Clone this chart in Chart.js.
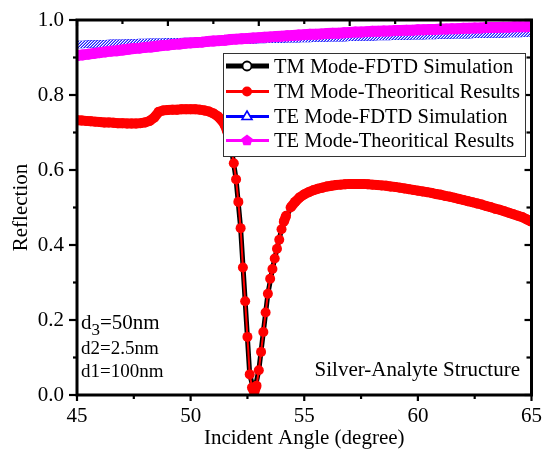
<!DOCTYPE html>
<html><head><meta charset="utf-8">
<script src="https://cdn.jsdelivr.net/npm/chart.js@4.4.1/dist/chart.umd.min.js"></script>
<style>html,body{margin:0;padding:0;background:#fff;}canvas{display:block;}</style>
</head><body>
<canvas id="c" width="542" height="454"></canvas>
<script>
// ---------- data ----------
const tmAngles = [45.0,45.2,45.4,45.6,45.8,46.0,46.2,46.4,46.6,46.8,47.0,47.2,47.4,47.6,47.8,48.0,48.2,48.4,48.6,48.8,
  49.0,49.2,49.4,49.6,49.8,50.0,50.2,50.4,50.6,50.8,51.0,51.2,51.4,51.5,51.6,51.7,51.8,51.9,52.0,52.1,
  52.2,52.3,52.4,52.5,52.6,52.7,52.8,52.9,53.0,53.1,53.2,53.3,53.4,53.5,53.6,53.7,53.8,53.9,54.0,54.1,
  54.2,54.4,54.6,54.8,55.0,55.2,55.4,55.6,55.8,56.0,56.2,56.4,56.6,56.8,57.0,57.2,57.4,57.6,57.8,58.0,
  58.2,58.4,58.6,58.8,59.0,59.2,59.4,59.6,59.8,60.0,60.2,60.4,60.6,60.8,61.0,61.2,61.4,61.6,61.8,62.0,
  62.2,62.4,62.6,62.8,63.0,63.2,63.4,63.6,63.8,64.0,64.2,64.4,64.6,64.8,65.0];
const tmTheory = [0.733,0.732,0.731,0.730,0.729,0.728,0.727,0.727,0.726,0.725,0.725,0.724,0.724,0.724,0.725,0.727,0.731,0.740,0.755,0.759,
  0.760,0.761,0.761,0.762,0.762,0.762,0.762,0.761,0.759,0.756,0.751,0.743,0.730,0.720,0.705,0.685,0.655,0.618,0.575,0.515,
  0.445,0.340,0.250,0.155,0.055,0.020,0.008,0.025,0.066,0.115,0.168,0.220,0.270,0.310,0.336,0.364,0.390,0.414,0.442,0.462,
  0.478,0.500,0.515,0.527,0.535,0.541,0.546,0.550,0.553,0.556,0.558,0.560,0.561,0.562,0.563,0.563,0.563,0.563,0.562,0.561,
  0.560,0.559,0.558,0.556,0.555,0.553,0.551,0.549,0.547,0.545,0.543,0.541,0.539,0.536,0.534,0.531,0.529,0.526,0.523,0.520,
  0.517,0.514,0.511,0.508,0.504,0.501,0.497,0.494,0.490,0.486,0.482,0.478,0.474,0.468,0.462];
const tmFdtdAngles = [45,46,47,48,48.4,48.6,49,50,51,51.4,51.6,51.8,52.0,52.2,52.4,52.6,52.8,53.0,53.2,53.4,53.6,53.8,54.0,54.4,55,56,57,58,59,60,61,62,63,64,65];
const tmFdtd = [0.733,0.728,0.725,0.727,0.740,0.755,0.760,0.762,0.751,0.730,0.705,0.655,0.575,0.445,0.250,0.055,0.008,0.066,0.168,0.270,0.336,0.390,0.442,0.500,0.535,0.556,0.563,0.561,0.555,0.545,0.534,0.520,0.504,0.486,0.462];
const teAngles = [45,45.25,45.5,45.75,46,46.25,46.5,46.75,47,47.25,47.5,47.75,48,48.25,48.5,48.75,49,49.25,49.5,49.75,
  50,50.25,50.5,50.75,51,51.25,51.5,51.75,52,52.25,52.5,52.75,53,53.25,53.5,53.75,54,54.25,54.5,54.75,
  55,55.25,55.5,55.75,56,56.25,56.5,56.75,57,57.25,57.5,57.75,58,58.25,58.5,58.75,59,59.25,59.5,59.75,
  60,60.25,60.5,60.75,61,61.25,61.5,61.75,62,62.25,62.5,62.75,63,63.25,63.5,63.75,64,64.25,64.5,64.75,65];
const teFdtd = [0.935,0.935,0.936,0.936,0.937,0.937,0.938,0.938,0.938,0.939,0.939,0.940,0.940,0.941,0.941,0.941,0.942,0.942,0.942,0.943,
  0.943,0.943,0.944,0.944,0.945,0.945,0.945,0.946,0.946,0.947,0.947,0.947,0.948,0.948,0.949,0.949,0.949,0.950,0.950,0.950,
  0.951,0.951,0.952,0.952,0.952,0.953,0.953,0.953,0.954,0.954,0.955,0.955,0.955,0.956,0.956,0.956,0.957,0.957,0.957,0.958,
  0.958,0.958,0.959,0.959,0.960,0.960,0.960,0.961,0.961,0.961,0.962,0.962,0.962,0.963,0.963,0.963,0.964,0.964,0.964,0.965,0.965];
const teTheory = [0.905,0.907,0.909,0.911,0.913,0.915,0.917,0.918,0.920,0.922,0.924,0.925,0.927,0.928,0.930,0.932,0.933,0.935,0.936,0.938,
  0.939,0.940,0.941,0.943,0.944,0.945,0.946,0.948,0.949,0.950,0.951,0.952,0.953,0.954,0.955,0.956,0.957,0.958,0.959,0.960,
  0.961,0.962,0.962,0.963,0.964,0.965,0.965,0.966,0.967,0.968,0.968,0.969,0.970,0.970,0.971,0.971,0.972,0.972,0.973,0.973,
  0.974,0.974,0.975,0.975,0.976,0.976,0.977,0.977,0.978,0.978,0.979,0.979,0.980,0.980,0.980,0.981,0.981,0.982,0.982,0.982,0.983];
const legendLabels = ['TM Mode-FDTD Simulation','TM Mode-Theoritical Results','TE Mode-FDTD Simulation','TE Mode-Theoritical Results'];
const topMajorTicks = [45,49,53,57,61,65];
const topMinorTicks = [47,51,55,59,63];
const xTitle = 'Incident Angle (degree)';
const yTitle = 'Reflection';
const noteStructure = 'Silver-Analyte Structure';

const FONT = "'Liberation Serif','Times New Roman',serif";
const pts = (xs, ys) => xs.map((a, i) => ({x: a, y: ys[i]}));

function line(ctx, x1, y1, x2, y2){ ctx.beginPath(); ctx.moveTo(x1,y1); ctx.lineTo(x2,y2); ctx.stroke(); }

// hatch pattern imitating the dense TE-FDTD open-triangle band
function hatch(){
  const c = document.createElement('canvas'); c.width = 3; c.height = 3;
  const g = c.getContext('2d');
  g.fillStyle = '#ffffff'; g.fillRect(0, 0, 3, 3);
  g.fillStyle = '#2020ff';
  g.fillRect(0, 2, 1, 1); g.fillRect(1, 1, 1, 1); g.fillRect(2, 0, 1, 1);
  g.fillStyle = '#8a8aff';
  g.fillRect(0, 1, 1, 1); g.fillRect(1, 0, 1, 1); g.fillRect(2, 2, 1, 1);
  return g.createPattern(c, 'repeat');
}
const bluePattern = hatch();

const decor = {
  id: 'decor',
  afterDatasetsDraw(chart){
    const {ctx, chartArea: a, scales: {x, y}} = chart;
    ctx.save();
    ctx.strokeStyle = '#000';
    ctx.lineWidth = 2.2;
    for (let k = 0; k <= 8; k++) {
      const v = 45 + k * 2.5, px = x.getPixelForValue(v);
      line(ctx, px, a.bottom, px, a.bottom + (k % 2 === 0 ? 6 : 4));
    }
    topMajorTicks.forEach(v => { const px = x.getPixelForValue(v); line(ctx, px, a.top, px, a.top + 6); });
    topMinorTicks.forEach(v => { const px = x.getPixelForValue(v); line(ctx, px, a.top, px, a.top + 4); });
    for (let k = 0; k <= 10; k++) {
      const py = y.getPixelForValue(k / 10);
      line(ctx, a.left - (k % 2 === 0 ? 8 : 4), py, a.left, py);
      line(ctx, a.right, py, a.right - (k % 2 === 0 ? 7 : 5), py);
    }
    ctx.lineWidth = 3;
    ctx.strokeRect(a.left, a.top, a.right - a.left, a.bottom - a.top);

    // legend
    const bx = 223, by = 53, bw = 302, bh = 103;
    ctx.fillStyle = '#fff'; ctx.fillRect(bx, by, bw, bh);
    ctx.strokeStyle = '#333'; ctx.lineWidth = 1; ctx.strokeRect(bx + 0.5, by + 0.5, bw, bh);
    const rowsY = [66, 91.5, 116.5, 140.5];
    const lx1 = 226, lx2 = 269, mx = 247;
    ctx.font = '20.5px ' + FONT; ctx.textBaseline = 'alphabetic'; ctx.textAlign = 'left';
    rowsY.forEach((ry, i) => {
      if (i === 0) {
        ctx.strokeStyle = '#000'; ctx.lineWidth = 5; line(ctx, lx1, ry, lx2, ry);
        ctx.beginPath(); ctx.arc(mx, ry, 4.5, 0, Math.PI * 2); ctx.fillStyle = '#fff'; ctx.fill();
        ctx.lineWidth = 1.8; ctx.stroke();
      } else if (i === 1) {
        ctx.strokeStyle = '#ff0000'; ctx.lineWidth = 3; line(ctx, lx1, ry, lx2, ry);
        ctx.beginPath(); ctx.arc(mx, ry, 5, 0, Math.PI * 2); ctx.fillStyle = '#ff0000'; ctx.fill();
      } else if (i === 2) {
        ctx.strokeStyle = '#0000ff'; ctx.lineWidth = 3; line(ctx, lx1, ry, lx2, ry);
        ctx.beginPath(); ctx.moveTo(mx, ry - 5.5); ctx.lineTo(mx + 5, ry + 3); ctx.lineTo(mx - 5, ry + 3); ctx.closePath();
        ctx.fillStyle = '#fff'; ctx.fill(); ctx.lineWidth = 1.6; ctx.stroke();
      } else {
        ctx.strokeStyle = '#ff00ff'; ctx.lineWidth = 3; line(ctx, lx1, ry, lx2, ry);
        ctx.beginPath();
        for (let k = 0; k < 5; k++) {
          const ang = -Math.PI / 2 + k * 2 * Math.PI / 5;
          const px = mx + 6 * Math.cos(ang), py = ry + 6 * Math.sin(ang);
          if (k === 0) ctx.moveTo(px, py); else ctx.lineTo(px, py);
        }
        ctx.closePath(); ctx.fillStyle = '#ff00ff'; ctx.fill();
      }
      ctx.fillStyle = '#000';
      ctx.fillText(legendLabels[i], 274, ry + 6.7);
    });

    // notes
    ctx.fillStyle = '#000';
    ctx.font = '21px ' + FONT;
    ctx.fillText('d', 81, 328.5);
    const w = ctx.measureText('d').width;
    ctx.font = '17px ' + FONT;
    ctx.fillText('3', 81 + w, 335);
    const w3 = ctx.measureText('3').width;
    ctx.font = '21px ' + FONT;
    ctx.fillText('=50nm', 81 + w + w3, 328.5);
    ctx.font = '19px ' + FONT;
    ctx.fillText('d2=2.5nm', 81, 353.5);
    ctx.fillText('d1=100nm', 81, 377);
    ctx.font = '21px ' + FONT;
    ctx.textAlign = 'right';
    ctx.fillText(noteStructure, 520, 376);
    ctx.restore();
  }
};

Chart.defaults.font.family = FONT;
const flatWidth = (w, thin) => ctx => (Math.abs(ctx.p1.parsed.y - ctx.p0.parsed.y) < 0.02 ? w : thin);
new Chart(document.getElementById('c'), {
  type: 'line',
  data: {
    datasets: [
      { label: legendLabels[1], data: pts(tmAngles, tmTheory), order: 1, clip: 0,
        borderColor: '#ff0000', borderWidth: 2, pointRadius: 5, pointBackgroundColor: '#ff0000',
        pointBorderWidth: 0, tension: 0,
        segment: { borderWidth: flatWidth(10, 2) } },
      { label: legendLabels[0], data: pts(tmFdtdAngles, tmFdtd), order: 2, clip: 0,
        borderColor: '#000', borderWidth: 5, pointRadius: 0, tension: 0 },
      { label: legendLabels[3], data: pts(teAngles, teTheory), order: 3, clip: 0,
        borderColor: '#ff00ff', borderWidth: 11, pointRadius: 5.5, pointBackgroundColor: '#ff00ff',
        pointBorderWidth: 0, tension: 0 },
      { label: legendLabels[2], data: pts(teAngles, teFdtd), order: 4, clip: 0,
        borderColor: bluePattern, borderWidth: 7, pointRadius: 0, tension: 0 },
      { label: legendLabels[2] + ' edge', data: pts(teAngles, teFdtd), order: 5, clip: 0,
        borderColor: '#0000ff', borderWidth: 7.5, pointRadius: 0, tension: 0 }
    ]
  },
  options: {
    responsive: false, animation: false, devicePixelRatio: 1,
    layout: { padding: { left: 0, top: 20, right: 10.5, bottom: 0 } },
    plugins: { legend: { display: false }, tooltip: { enabled: false } },
    events: [],
    scales: {
      x: { type: 'linear', min: 45, max: 65, position: 'bottom',
        afterFit(s) { s.height = 59; s.paddingLeft = 0; s.paddingRight = 0; },
        grid: { display: false, drawTicks: false }, border: { display: false },
        ticks: { stepSize: 5, padding: 9, color: '#000', font: { family: FONT, size: 21 }, maxRotation: 0, autoSkip: false },
        title: { display: true, text: xTitle, color: '#000', font: { family: FONT, size: 21 }, padding: { top: 0, bottom: 3 } } },
      y: { type: 'linear', min: 0, max: 1, position: 'left',
        afterFit(s) { s.width = 77; s.paddingTop = 0; s.paddingBottom = 0; },
        grid: { display: false, drawTicks: false }, border: { display: false },
        ticks: { stepSize: 0.2, padding: 13, color: '#000', font: { family: FONT, size: 21 }, callback: v => v.toFixed(1) },
        title: { display: true, text: yTitle, color: '#000', font: { family: FONT, size: 21 }, padding: { top: 9, bottom: 0 } } }
    }
  },
  plugins: [decor]
});
</script>
</body></html>
